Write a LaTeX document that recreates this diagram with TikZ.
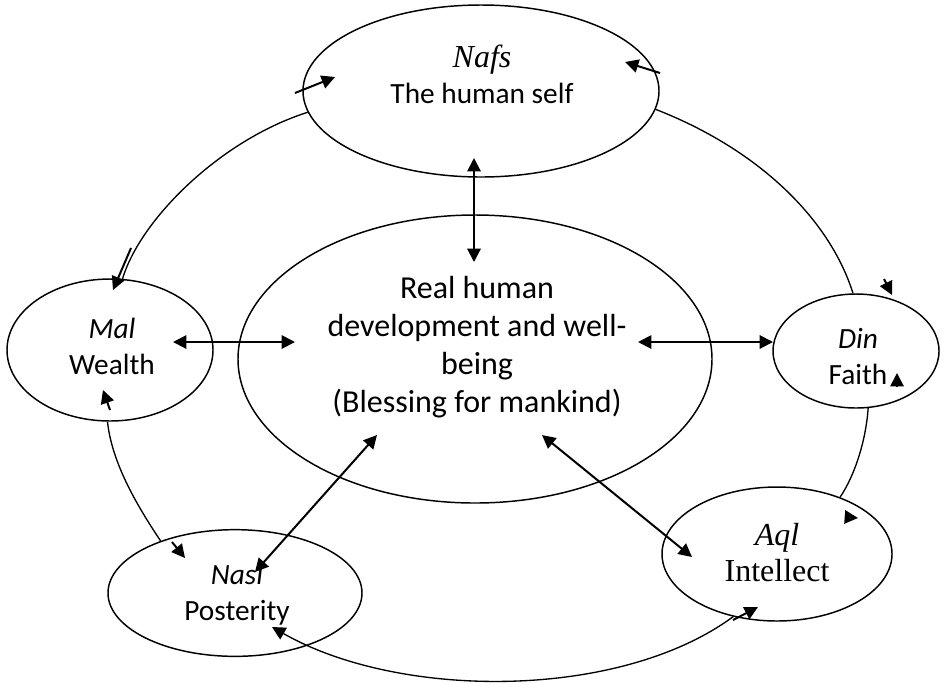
\documentclass[tikz,border=0pt]{standalone}
\usepackage{fontspec}
\setmainfont{Carlito}
\newfontfamily\timesfont{Liberation Serif}
\newcommand{\tms}{\timesfont\fontsize{24}{27}\selectfont}
\newcommand{\wellfont}{\fontsize{24}{28.5}\selectfont}
\usetikzlibrary{arrows.meta,shapes.geometric}

\begin{document}
\begin{tikzpicture}[x=0.75pt,y=-0.75pt,font=\fontsize{22}{27}\selectfont,
  oval/.style={draw,ellipse,line width=1.1pt,inner sep=0pt},
  txt/.style={align=center,inner sep=0pt},
  link/.style={line width=1pt},
  tip/.style={-{Triangle[length=10pt,width=10pt]},line width=1.5pt},
  both/.style={{Triangle[length=10pt,width=10pt]}-{Triangle[length=10pt,width=10pt]},line width=1.5pt}]
\useasboundingbox (0,0) rectangle (944,683);
% the six ovals
\node[oval,minimum width=267pt,minimum height=129pt] (nafs) at (481,91) {};
\node[oval,minimum width=355.5pt,minimum height=216pt] (well) at (475,359) {};
\node[oval,minimum width=154.5pt,minimum height=106.5pt] (mal) at (110,350) {};
\node[oval,minimum width=124.5pt,minimum height=85.5pt] (din) at (856,351) {};
\node[oval,minimum width=190.5pt,minimum height=95pt] (nasl) at (235,593) {};
\node[oval,minimum width=172.5pt,minimum height=100.5pt] (aql) at (777,554) {};
% texts
\node[txt] (nafs-t) at (482,74) {{\tms\itshape Nafs}\\The human self};
\node[txt,font=\wellfont] (well-t) at (477,347) {Real human\\development and well-\\being\\(Blessing for mankind)};
\node[txt] (mal-t) at (112,346) {\textit{Mal}\\Wealth};
\node[txt] (din-t) at (858,357) {\textit{Din}\\Faith};
\node[txt] (nasl-t) at (237,595) {\textit{Nasl}\\Posterity};
\node[txt] (aql-t) at (777,553) {{\tms\itshape Aql}\\{\tms Intellect}};
% spokes
\coordinate (nafs-s) at (474,158);  \coordinate (well-n) at (474,262);
\coordinate (mal-e) at (173,342);   \coordinate (well-w) at (295,342);
\coordinate (din-w) at (773,342);   \coordinate (well-e) at (638,342);
\coordinate (nasl-ne) at (255,572); \coordinate (well-sw) at (377,435);
\coordinate (aql-nw) at (692,557);  \coordinate (well-se) at (542,435);
\foreach \a/\b in {nafs-s/well-n,mal-e/well-w,din-w/well-e,nasl-ne/well-sw,aql-nw/well-se}
  \draw[both] (\a) -- (\b);
% outer ring
\coordinate (nasl-se) at (272,627);
\draw[link] (nafs.-6) .. controls (760,150) and (830,220) .. (din.93);
\draw[link] (din.-78) .. controls (866,440) and (855,475) .. (aql.42);
\draw[link,-{Triangle[length=10pt,width=10pt]}] (aql.235) .. controls (620,700) and (400,700) .. (nasl-se);
\draw[link] (nasl.145) .. controls (140,510) and (112,465) .. (mal.-92);
\draw[link] (mal.80) .. controls (140,220) and (220,140) .. (nafs.187);
% loose arrow heads
\foreach \xa/\ya/\xb/\yb in {295/93/335/77,660/73/625/62,884/279/892/295,131/248/113/290,
                   110/410/103/390,172/542/185/558,733/620/758/607,845/517/858/518,897/387/897/373}
  \draw[tip] (\xa,\ya) -- (\xb,\yb);
\end{tikzpicture}
\end{document}
